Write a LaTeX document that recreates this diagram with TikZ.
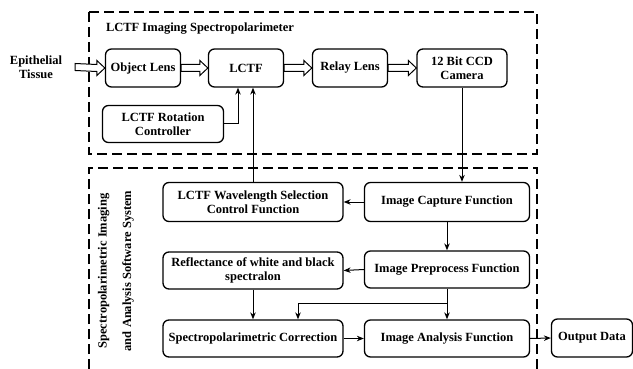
\documentclass[tikz,border=0pt]{standalone}
\usepackage{fontspec}
\setmainfont{Liberation Serif}
\usetikzlibrary{arrows.meta, calc}

\tikzset{
  txt/.style={font=\fontsize{12.5}{14.5}\selectfont\bfseries},
  block/.style={draw, txt, line width=1.3pt, rounded corners=6pt, align=center,
    inner sep=0pt, minimum height=38pt},
  frame/.style={line width=1.3pt, dash pattern=on 10pt off 5pt},
  link/.style={line width=1pt, -{Stealth[length=7pt, width=5.5pt]}},
  beam/.style={line width=1pt, line join=miter, fill=white},
  label/.style={txt, align=center, inner sep=0pt}
}
% hollow light arrow from #1 to #2
\newcommand{\beamto}[2]{%
  \draw[beam] ($(#1)+(0,-3.5)$) -- ($(#2)+(-8,-3.5)$) -- ($(#2)+(-8,-7.5)$)
    -- (#2) -- ($(#2)+(-8,7.5)$) -- ($(#2)+(-8,3.5)$) -- ($(#1)+(0,3.5)$) -- cycle;}

\begin{document}
\begin{tikzpicture}[x=1pt, y=-1pt]
  \useasboundingbox (0,0) rectangle (633,369);

    % Frames
  \draw[frame] (89,12) rectangle (537,154);
  \draw[frame] (89,369) -- (89,168) -- (537,168) -- (537,369);
  \node[label] (top) at (200,29) {LCTF Imaging Spectropolarimeter};
  \node[label, rotate=90] (bottom) at (116,271)
    {Spectropolarimetric Imaging\\[10pt] and Analysis Software System};

    % Optical path
  \node[label] (tissue) at (36,67) {Epithelial\\Tissue};
  \node[block, minimum width=75pt] (obj) at (143,68) {Object Lens};
  \node[block, minimum width=75pt] (lctf) at (246,68) {LCTF};
  \node[block, minimum width=75pt] (relay) at (350,68) {Relay Lens};
  \node[block, minimum width=90pt] (ccd) at (462,68) {12 Bit CCD\\Camera};
  \node[block, minimum width=121pt, minimum height=37pt] (rot) at (163,124)
    {LCTF Rotation\\Controller};

    % Software blocks
  \node[block, minimum width=180pt, minimum height=39pt] (wave) at (253,202)
    {LCTF Wavelength Selection\\Control Function};
  \node[block, minimum width=165pt, minimum height=39pt] (cap) at (447,202)
    {Image Capture Function};
  \node[block, minimum width=180pt, minimum height=37pt] (refl) at (253,270.5)
    {Reflectance of white and black\\spectralon};
  \node[block, minimum width=165pt, minimum height=37pt] (pre) at (447,269.5)
    {Image Preprocess Function};
  \node[block, minimum width=180pt, minimum height=37pt] (corr) at (253,338.5)
    {Spectropolarimetric Correction};
  \node[block, minimum width=165pt, minimum height=37pt] (ana) at (447,338.5)
    {Image Analysis Function};
  \node[block, minimum width=81pt, minimum height=38pt] (out) at (592,338)
    {Output Data};
  \coordinate (split) at (447,303);

    % Light
  \beamto{[xshift=13pt]tissue.east}{obj.west}
  \beamto{obj.east}{lctf.west}
  \beamto{lctf.east}{relay.west}
  \beamto{relay.east}{ccd.west}

    % Signals
  \draw[link] (rot.east) -| ([xshift=-8pt]lctf.south);
  \draw[link] (wave.north) -- (wave.north |- lctf.south);
  \draw[link] (ccd.south) -- (ccd.south |- cap.north);
  \draw[link] (cap.west) -- (wave.east);
  \draw[link] (cap.south) -- (pre.north);
  \draw[link] (pre.west) -- (refl.east);
  \draw[link] (pre.south) -- (ana.north);
  \draw[link] (split) -| ([xshift=45pt]corr.north);
  \draw[link] (refl.south) -- (corr.north);
  \draw[link] (corr.east) -- (ana.west);
  \draw[link] (ana.east) -- (out.west);
\end{tikzpicture}
\end{document}
